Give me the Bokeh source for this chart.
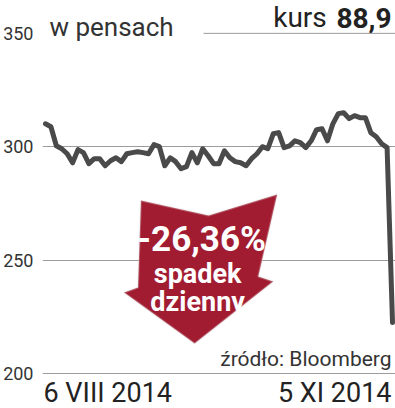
from bokeh.plotting import figure
from bokeh.models import Range1d, PolyAnnotation, FixedTicker
from bokeh.core.properties import value
from bokeh.embed import file_html
from bokeh.resources import INLINE

# ---- data ----
prices = [310.1, 308.8, 300.4, 299.1, 296.9, 292.9, 298.7, 297.4, 292.5, 294.7,
          294.7, 291.6, 293.8, 295.1, 293.4, 296.9, 297.4, 297.8, 297.4, 296.9,
          300.9, 300.0, 291.6, 295.1, 293.4, 290.3, 291.2, 297.4, 292.9, 299.1,
          296.0, 292.5, 292.5, 298.2, 295.1, 293.4, 292.9, 291.6, 294.7, 296.9,
          300.0, 299.1, 305.7, 306.2, 299.6, 300.4, 302.6, 301.8, 299.6, 302.6,
          307.5, 307.9, 302.6, 310.1, 314.6, 315.0, 312.4, 313.7, 312.8, 312.8,
          306.2, 304.4, 301.3, 299.6, 222.4]
days = list(range(len(prices)))
y_ticks = [200, 250, 300, 350]
date_labels = ["6 VIII 2014", "5 XI 2014"]
unit_label = "w pensach"
kurs_label = "kurs"
kurs_value = "88,9"
change_label = "-26,36%"
change_words = ["spadek", "dzienny"]
source_label = "źródło: Bloomberg"

# ---- layout helpers (pixel -> data) ----
W, H = 395, 408
FRAME_L = 40
X0_PX, XN_PX = 43, 392
PX_PER_DAY = (XN_PX - X0_PX) / (len(prices) - 1)
PX_PER_UNIT = 2.2667
Y300_PX = 146.2
BASE_SHIFT = 0.35  # empirical em offset of the rendered text baseline


def dx(px):
    return (px - X0_PX) / PX_PER_DAY


def dy(py):
    return 300 - (py - Y300_PX) / PX_PER_UNIT


FONT = "Roboto"
p = figure(width=W, height=H, output_backend="svg", toolbar_location=None,
           x_range=Range1d(dx(FRAME_L), dx(W)), y_range=Range1d(dy(H), dy(0)),
           x_axis_location=None, y_axis_location="left",
           min_border_left=FRAME_L, min_border_right=0, min_border_top=0,
           min_border_bottom=0)
p.outline_line_color = None
p.background_fill_color = "white"
p.border_fill_color = "white"

ax = p.yaxis[0]
ax.ticker = FixedTicker(ticks=y_ticks)
ax.axis_line_color = None
ax.major_tick_line_color = None
ax.minor_tick_line_color = None
ax.major_label_standoff = 3
ax.major_label_text_font = FONT
ax.major_label_text_font_size = "18px"
ax.major_label_text_color = "#333333"

p.xgrid.grid_line_color = None
p.ygrid.ticker = FixedTicker(ticks=y_ticks[:3])
p.ygrid.grid_line_color = "#9c9c9c"
p.ygrid.grid_line_width = 1

# top reference line (350) under the price box
p.segment(x0=dx(202), y0=y_ticks[3], x1=dx(W), y1=y_ticks[3],
          line_color="#9c9c9c", line_width=1)

# price line
p.line(days, prices, line_color="#4a4a4a", line_width=5,
       line_join="round", line_cap="round")

# red arrow (decoration)
arrow_px = [(139, 200), (207, 215), (276, 194), (257, 276), (272, 281),
            (193, 343), (122, 292), (136, 287)]
p.add_layout(PolyAnnotation(xs=[dx(a) for a, b in arrow_px],
                            ys=[dy(b) for a, b in arrow_px],
                            fill_color="#a21c31", fill_alpha=1.0,
                            line_color="#dcdcdc", line_width=2,
                            level="glyph"))


def lab(text, px, py, size, color="#222222", align="left", style="normal"):
    fs = float(size.replace("px", ""))
    p.text(x=[dx(px)], y=[dy(py - BASE_SHIFT * fs)], text=[text],
           text_align=align, text_baseline="alphabetic",
           text_font=value(FONT), text_font_size=size, text_color=color,
           text_font_style=style, level="overlay")


lab(unit_label, 47, 36, "26px", color="#333333")
lab(kurs_label, 272, 27, "28px")
lab(kurs_value, 391, 27, "28px", align="right", style="bold")

lab(change_label, 200, 251, "35px", color="white", align="center", style="bold")
lab(change_words[0], 196, 283, "27px", color="white", align="center", style="bold")
lab(change_words[1], 196, 311, "27px", color="white", align="center", style="bold")

lab(source_label, 391, 366, "21px", color="#333333", align="right")
lab(date_labels[0], 41, 402, "27px")
lab(date_labels[1], 391, 402, "27px", align="right")

open("out.html", "w").write(file_html(p, INLINE))
